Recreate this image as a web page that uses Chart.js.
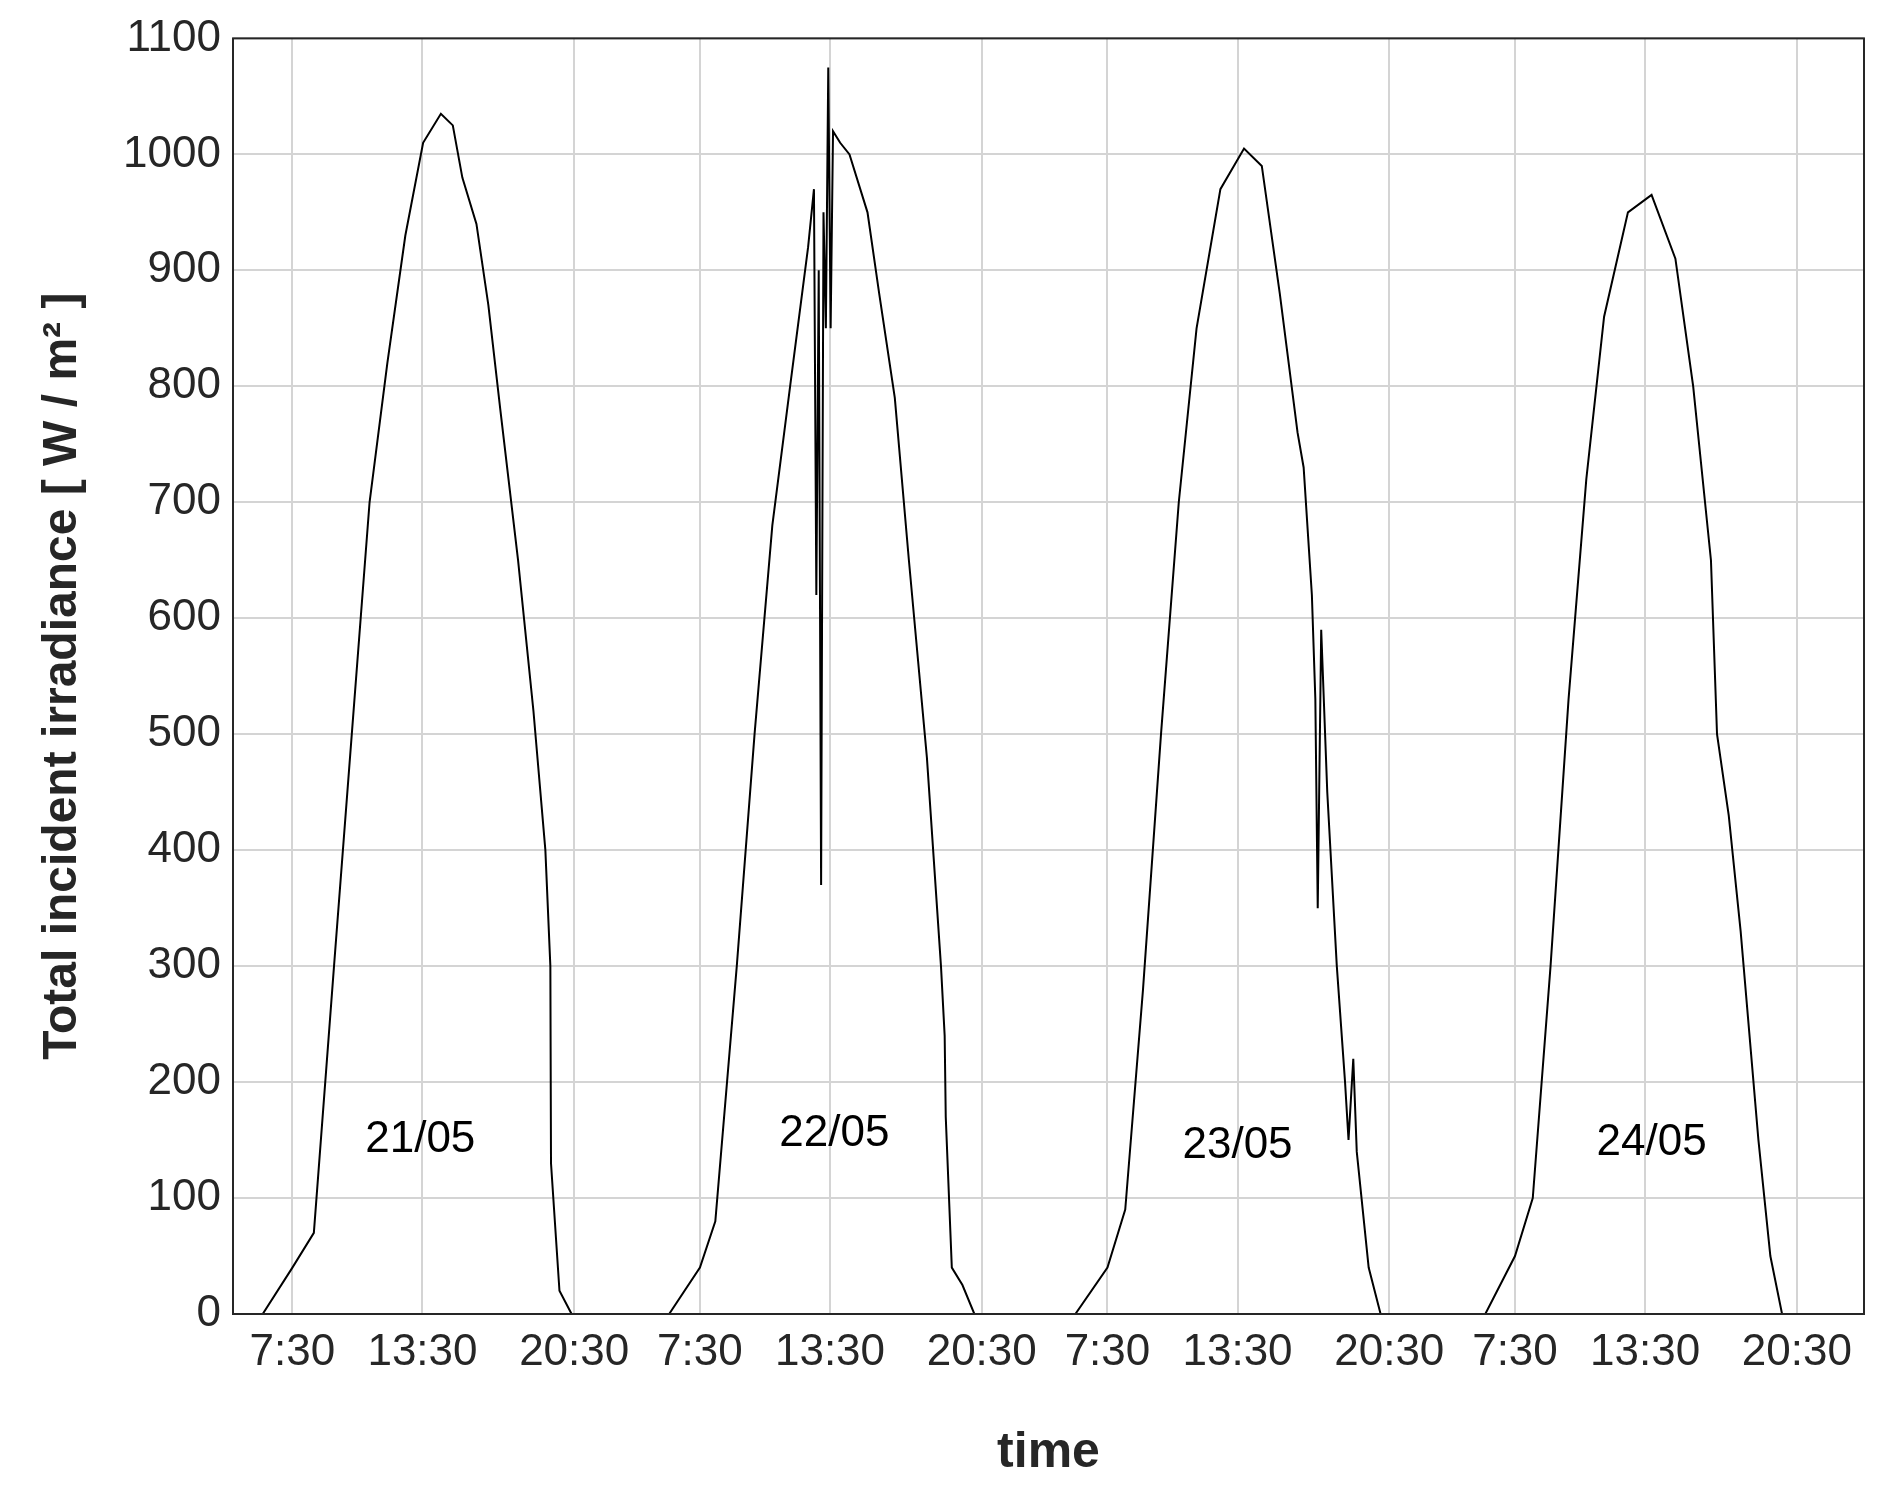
<!DOCTYPE html>
<html>
<head>
<meta charset="utf-8">
<script src="https://cdn.jsdelivr.net/npm/chart.js@4"></script>
<style>
  html, body { margin: 0; padding: 0; background: #fff; }
  #wrap { width: 1877px; height: 1487px; }
</style>
</head>
<body>
<div id="wrap"><canvas id="c"></canvas></div>
<script>
// horas del día, cada día desplazado DAY_SHIFT unidades en el eje
const DAY_SHIFT = 18.8;
const tickHours = [7.5, 13.5, 20.5];
const tickLabels = ['7:30', '13:30', '20:30'];
const dayLabels = ['21/05', '22/05', '23/05', '24/05'];
const dayLabelPos = [[13.4, 150], [13.7, 155], [13.5, 145], [13.8, 148]];

const day1Hours = [6.13, 7.5, 8.49, 9.42, 10.24, 11.06, 11.88, 12.71, 13.53, 14.35, 14.9, 15.34, 15.99, 16.54, 17.09, 17.91, 18.62, 19.17, 19.4, 19.43, 19.82, 20.38];
const day1Vals  = [0, 40, 70, 300, 500, 700, 820, 930, 1010, 1035, 1025, 980, 940, 870, 780, 650, 520, 400, 300, 130, 20, 0];

const day2Hours = [6.08, 7.5, 8.21, 9.2, 10.02, 10.84, 11.66, 12.49, 12.76, 12.87, 12.98, 13.09, 13.2, 13.31, 13.42, 13.53, 13.64, 13.97, 14.4, 15.23, 15.77, 16.49, 17.14, 17.97, 18.62, 18.79, 18.84, 19.12, 19.61, 20.16];
const day2Vals  = [0, 40, 80, 300, 500, 680, 800, 920, 970, 620, 900, 370, 950, 850, 1075, 850, 1020, 1010, 1000, 950, 880, 790, 650, 480, 300, 240, 170, 40, 25, 0];

const day3Hours = [6.02, 7.5, 8.32, 9.14, 9.97, 10.79, 11.61, 12.71, 13.8, 14.62, 15.45, 16.27, 16.55, 16.93, 17.09, 17.2, 17.36, 17.64, 18.08, 18.46, 18.62, 18.84, 19.0, 19.55, 20.1];
const day3Vals  = [0, 40, 90, 280, 500, 700, 850, 970, 1005, 990, 880, 760, 730, 620, 530, 350, 590, 450, 300, 200, 150, 220, 140, 40, 0];

const day4Hours = [6.13, 7.5, 8.32, 9.14, 9.97, 10.79, 11.61, 12.71, 13.8, 14.9, 15.72, 16.54, 16.82, 17.36, 17.91, 18.73, 19.28, 19.82];
const day4Vals  = [0, 50, 100, 300, 530, 720, 860, 950, 965, 910, 800, 650, 500, 430, 330, 150, 50, 0];

const yTicks = [0, 100, 200, 300, 400, 500, 600, 700, 800, 900, 1000, 1100];

const days = [[day1Hours, day1Vals], [day2Hours, day2Vals], [day3Hours, day3Vals], [day4Hours, day4Vals]];
const datasets = days.map((d, i) => ({
  data: d[0].map((h, j) => ({ x: h + i * DAY_SHIFT, y: d[1][j] })),
  borderColor: '#000', borderWidth: 2, pointRadius: 0, tension: 0
}));

const xTickValues = [];
const xTickText = {};
for (let i = 0; i < 4; i++) {
  tickHours.forEach((h, j) => {
    const v = +(h + i * DAY_SHIFT).toFixed(3);
    xTickValues.push(v);
    xTickText[v] = tickLabels[j];
  });
}

const textColor = '#262626';

const dayTextPlugin = {
  id: 'dayText',
  afterDatasetsDraw(chart) {
    const { ctx, scales } = chart;
    ctx.save();
    ctx.font = '44px Arial, "Liberation Sans", sans-serif';
    ctx.fillStyle = '#000';
    ctx.textAlign = 'center';
    ctx.textBaseline = 'middle';
    dayLabels.forEach((t, i) => {
      ctx.fillText(t, scales.x.getPixelForValue(dayLabelPos[i][0] + i * DAY_SHIFT), scales.y.getPixelForValue(dayLabelPos[i][1]));
    });
    const a = chart.chartArea;
    ctx.strokeStyle = '#262626';
    ctx.lineWidth = 2;
    ctx.strokeRect(a.left, a.top, a.right - a.left, a.bottom - a.top);
    ctx.restore();
  }
};

new Chart(document.getElementById('c'), {
  type: 'line',
  data: { datasets: datasets },
  plugins: [dayTextPlugin],
  options: {
    responsive: true,
    maintainAspectRatio: false,
    animation: false,
    layout: { padding: { top: 36, right: 13, left: 30, bottom: 0 } },
    plugins: { legend: { display: false }, tooltip: { enabled: false } },
    scales: {
      x: {
        type: 'linear', min: 4.76, max: 80.0,
        afterBuildTicks: s => { s.ticks = xTickValues.map(v => ({ value: v })); },
        afterFit: s => { s.height = 173; },
        ticks: {
          autoSkip: false, maxRotation: 0, color: textColor, padding: 12,
          font: { size: 44, family: 'Arial, "Liberation Sans", sans-serif' },
          callback: v => xTickText[+v.toFixed(3)]
        },
        grid: { color: '#d4d4d4', lineWidth: 2, drawTicks: false },
        border: { display: false },
        title: { display: true, text: 'time', color: textColor, padding: { top: 0 },
          font: { size: 50, weight: 'bold', family: 'Arial, "Liberation Sans", sans-serif' } }
      },
      y: {
        min: 0, max: 1100,
        afterBuildTicks: s => { s.ticks = yTicks.map(v => ({ value: v })); },
        afterFit: s => { s.width = 203; },
        ticks: {
          color: textColor, padding: 12,
          font: { size: 44, family: 'Arial, "Liberation Sans", sans-serif' },
          callback: v => String(v)
        },
        grid: { color: '#d4d4d4', lineWidth: 2, drawTicks: false },
        border: { display: false },
        title: { display: true, text: 'Total incident irradiance [ W / m² ]', color: textColor,
          font: { size: 48, weight: 'bold', family: 'Arial, "Liberation Sans", sans-serif' } }
      }
    }
  }
});
</script>
</body>
</html>
